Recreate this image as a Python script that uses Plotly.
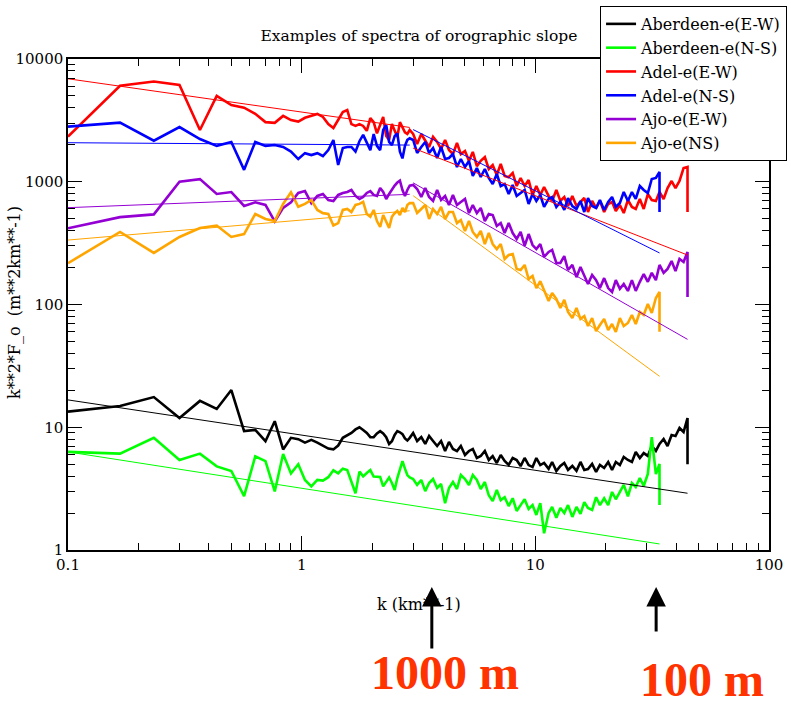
import plotly.graph_objects as go

# wavenumber grid k (km**-1)
K = [0.1, 0.167, 0.233, 0.3, 0.367, 0.433, 0.5, 0.567, 0.633, 0.7, 0.767, 0.833, 0.9, 0.967,
     1.033, 1.1, 1.167, 1.233, 1.3, 1.367, 1.433, 1.5, 1.567, 1.633, 1.7, 1.767, 1.833, 1.9,
     1.967, 2.033, 2.1, 2.167, 2.233, 2.3, 2.367, 2.433, 2.5, 2.567, 2.633, 2.7, 2.767, 2.833, 2.9,
     3.0, 3.12, 3.25, 3.38, 3.51, 3.65, 3.8, 3.95, 4.11, 4.27, 4.44, 4.62, 4.8, 5.0, 5.2, 5.4,
     5.62, 5.84, 6.08, 6.32, 6.57, 6.84, 7.11, 7.39, 7.69, 8.0, 8.32, 8.65, 9.0, 9.36, 9.73,
     10.1, 10.5, 10.9, 11.4, 11.8, 12.3, 12.8, 13.3, 13.8, 14.4, 15.0, 15.6, 16.2, 16.8, 17.5,
     18.2, 18.9, 19.7, 20.5, 21.3, 22.1, 23.0, 23.9, 24.9, 25.9, 26.9, 28.0, 29.1, 30.3, 31.5,
     32.8, 34.0, 35.4, 36.8, 38.3, 39.8, 41.4, 43.1, 44.8]

# spectra k**2*F_o (last value = final drop at the last wavenumber)
ABERDEEN_EW = [13.4, 14.9, 17.6, 11.9, 16.4, 14.1, 20.1, 9.3, 9.5, 7.7, 11.2, 6.6, 8.2, 8.0, 7.5,
               7.9, 7.5, 7.1, 6.7, 6.6, 7.1, 8.2, 8.6, 9.0, 9.6, 10.0, 9.5, 9.0, 8.3, 8.3, 8.9,
               9.3, 8.9, 8.3, 7.3, 7.7, 8.65, 9.3, 9.1, 8.8, 8.1, 7.8, 8.2,
               8.98, 7.72, 8.33, 7.31, 8.48, 7.72, 7.03, 7.72, 6.41, 7.59, 6.65, 6.40, 7.04, 5.95,
               6.41, 6.65, 5.61, 5.83, 6.40, 5.41, 5.83, 5.11, 5.94, 5.31, 4.93, 5.62, 5.41, 4.83,
               5.62, 4.92, 4.74, 5.61, 4.92, 5.12, 4.58, 5.21, 4.40, 4.83, 5.12, 4.49, 4.84, 4.41,
               5.22, 4.49, 4.57, 5.02, 4.32, 4.93, 4.66, 5.21, 4.49, 5.21, 4.92, 5.72, 5.41, 5.22,
               6.28, 5.61, 6.16, 5.84, 7.04, 6.41, 7.31, 8.02, 7.03, 8.64, 8.49, 9.86, 9.15, 11.9,
               5.0]
ABERDEEN_NS = [6.3, 6.1, 8.2, 5.4, 6.1, 4.8, 4.4, 2.75, 5.8, 5.3, 3.0, 6.05, 4.2, 5.0, 3.72,
               3.3, 3.72, 3.68, 3.92, 4.46, 4.22, 4.6, 4.48, 3.6, 2.9, 4.35, 3.98, 4.24, 4.48,
               3.97, 3.94, 3.93, 3.3, 3.6, 3.9, 3.52, 3.08, 3.86, 4.6, 5.3, 4.6, 4.08, 3.9,
               3.79, 3.39, 3.72, 3.02, 3.51, 3.79, 3.20, 3.45, 2.41, 3.20, 3.58, 3.14, 4.08, 3.79,
               3.39, 4.08, 3.72, 3.14, 3.58, 2.79, 2.50, 3.08, 2.55, 2.69, 2.28, 2.64, 2.08, 2.32,
               2.59, 2.16, 2.32, 1.93, 2.41, 1.37, 2.00, 2.24, 1.83, 2.20, 2.00, 2.32, 1.86, 2.24,
               1.97, 2.45, 2.20, 2.12, 2.69, 2.32, 2.64, 2.32, 2.97, 2.59, 2.97, 3.39, 2.74, 3.51,
               3.26, 3.86, 3.32, 4.16, 8.3, 4.16, 5.02, 2.33]
ADEL_EW = [2330, 6060, 6560, 6140, 2640, 5000, 4220, 4010, 3580, 3060, 3020, 3440, 3180, 3090,
           3320, 3460, 3570, 3370, 2950, 2740, 3190, 3700, 3840, 2950, 2850, 2950, 2850, 2600,
           3300, 3060, 2480, 2950, 3370, 2360, 2190, 2950, 2640, 2320, 3060, 2740, 2530, 2450, 2640,
           2450, 2030, 2450, 2190, 1920, 2320, 2110, 1850, 2190, 1815, 1680, 2070, 1680, 1780,
           1480, 1750, 1340, 1480, 1590, 1270, 1370, 1135, 1395, 1115, 1090, 1180, 923, 1073,
           923, 1033, 780, 923, 780, 906, 766, 697, 857, 697, 751, 634, 766, 634, 684, 737, 567,
           697, 611, 697, 567, 659, 684, 578, 647, 556, 710, 623, 600, 724, 600, 795, 710, 697,
           825, 724, 889, 1014, 889, 1014, 1294, 1319, 568]
ADEL_NS = [2810, 3030, 2160, 2790, 2230, 1960, 2110, 1250, 2110, 1960, 1990, 1920, 1760, 1530,
           1710, 1650, 1710, 1620, 1810, 2190, 1370, 1880, 1920, 1920, 1760, 2140, 2410, 2110,
           1810, 2450, 1960, 1810, 2640, 2900, 2110, 1990, 2350, 2480, 1760, 1550, 1960, 2190, 2260,
           2190, 1715, 1920, 2110, 1715, 1880, 1561, 1920, 1532, 1561, 1683, 1319, 1532, 1319,
           1476, 1114, 1294, 1093, 1270, 1073, 959, 1156, 923, 959, 795, 941, 766, 810, 857, 659,
           795, 697, 780, 623, 724, 751, 623, 684, 589, 737, 634, 600, 697, 567, 737, 634, 611,
           710, 589, 684, 751, 623, 671, 825, 697, 825, 724, 923, 857, 810, 1053, 1073, 1200, 567]
AJO_EW = [418, 515, 542, 1000, 1050, 795, 825, 635, 680, 647, 475, 612, 680, 810, 840, 670, 766,
          795, 710, 697, 781, 810, 825, 857, 766, 723, 752, 810, 840, 781, 766, 890, 825, 723,
          795, 873, 930, 985, 1020, 857, 766, 857, 930,
          943, 873, 751, 889, 751, 697, 857, 710, 766, 647, 780, 647, 684, 724, 556, 647, 556,
          611, 479, 546, 536, 436, 461, 382, 461, 382, 342, 390, 300, 375, 305, 283, 311, 244,
          268, 278, 218, 218, 248, 191, 210, 167, 202, 171, 147, 174, 158, 136, 164, 136, 126.5,
          158, 134, 147, 129, 158, 129, 153, 177, 153, 181, 158, 210, 181, 195, 226, 187, 235,
          222, 268, 115]
AJO_NS = [217, 390, 263, 355, 420, 440, 355, 375, 546, 497, 478, 660, 820, 625, 660, 710, 589,
          555, 546, 440, 460, 589, 600, 567, 647, 660, 685, 546, 518, 589, 478, 428, 536, 470,
          420, 518, 555, 578, 536, 612, 567, 647, 670,
          671, 556, 600, 647, 497, 600, 546, 623, 497, 567, 567, 461, 488, 397, 479, 390, 355,
          397, 311, 382, 311, 283, 311, 235, 253, 258, 195, 191, 210, 161, 171, 136, 155, 131,
          107, 124, 111, 93.6, 109, 86.9, 77.6, 93.6, 76.2, 80.6, 66.8, 77.6, 60.8, 68.1, 76.2,
          62.0, 69.4, 59.7, 77.6, 66.8, 70.7, 82.1, 69.4, 86.9, 82.1, 101, 85.3, 113, 126.5, 60]

# power-law fits (None separates the low-k and high-k segments)
FIT_ABERDEEN_EW_K = [0.1, 44.8]
FIT_ABERDEEN_EW_V = [16.7, 2.9]
FIT_ABERDEEN_NS_K = [0.1, 34.0]
FIT_ABERDEEN_NS_V = [6.3, 1.12]
FIT_ADEL_EW_K = [0.1, 2.9, None, 3.0, 44.8]
FIT_ADEL_EW_V = [6900, 2770, None, 1880, 253]
FIT_ADEL_NS_K = [0.1, 2.9, None, 3.0, 34.0]
FIT_ADEL_NS_V = [2080, 1990, None, 2660, 263]
FIT_AJO_EW_K = [0.1, 2.9, None, 3.0, 44.8]
FIT_AJO_EW_V = [615, 790, None, 980, 52]
FIT_AJO_NS_K = [0.1, 2.9, None, 3.0, 34.0]
FIT_AJO_NS_V = [335, 580, None, 770, 26]

NAMES = ["Aberdeen-e(E-W)", "Aberdeen-e(N-S)", "Adel-e(E-W)", "Adel-e(N-S)", "Ajo-e(E-W)", "Ajo-e(NS)"]
COLORS = ["#000000", "#00ff00", "#ff0000", "#0000ff", "#9400d3", "#ffa500"]
SPECTRA = [ABERDEEN_EW, ABERDEEN_NS, ADEL_EW, ADEL_NS, AJO_EW, AJO_NS]
FITS = [(FIT_ABERDEEN_EW_K, FIT_ABERDEEN_EW_V), (FIT_ABERDEEN_NS_K, FIT_ABERDEEN_NS_V),
        (FIT_ADEL_EW_K, FIT_ADEL_EW_V), (FIT_ADEL_NS_K, FIT_ADEL_NS_V),
        (FIT_AJO_EW_K, FIT_AJO_EW_V), (FIT_AJO_NS_K, FIT_AJO_NS_V)]

X_TICKS = [0.1, 1, 10, 100]
X_TICK_LABELS = ["0.1", "1", "10", "100"]
Y_TICKS = [1, 10, 100, 1000, 10000]
Y_TICK_LABELS = ["1", "10", "100", "1000", "10000"]
X_MINOR = [m * 10.0 ** e for e in (-1, 0, 1) for m in range(2, 10)]
Y_MINOR = [m * 10.0 ** e for e in (0, 1, 2, 3) for m in range(2, 10)]

SERIF = "DejaVu Serif"

fig = go.Figure()

for name, vals, col in zip(NAMES, SPECTRA, COLORS):
    n = len(vals) - 1
    xs = K[:n] + [K[n - 1]]
    fig.add_trace(go.Scatter(x=xs, y=vals, mode="lines", name=name,
                             line=dict(color=col, width=2.6)))

for (fk, fv), col in zip(FITS, COLORS):
    fig.add_trace(go.Scatter(x=fk, y=fv, mode="lines", showlegend=False, hoverinfo="skip",
                             line=dict(color=col, width=1)))

axis_common = dict(
    showline=True, linecolor="black", linewidth=1.5, mirror="allticks",
    ticks="inside", ticklen=14, tickwidth=1, tickcolor="black",
    showgrid=False, zeroline=False,
    tickfont=dict(family=SERIF, size=15, color="black"),
)

fig.update_xaxes(type="log", range=[-1, 2], tickmode="array", tickvals=X_TICKS,
                 ticktext=X_TICK_LABELS,
                 minor=dict(tickmode="array", tickvals=X_MINOR, ticks="inside", ticklen=7,
                            tickcolor="black", tickwidth=1),
                 **axis_common)
fig.update_yaxes(type="log", range=[0, 4], tickmode="array", tickvals=Y_TICKS,
                 ticktext=Y_TICK_LABELS,
                 minor=dict(tickmode="array", tickvals=Y_MINOR, ticks="inside", ticklen=7,
                            tickcolor="black", tickwidth=1),
                 **axis_common)

annotations = [
    dict(text="k (km**-1)", x=0.5007, y=-0.112, xref="paper", yref="paper", showarrow=False,
         xanchor="center", yanchor="middle", font=dict(family=SERIF, size=16, color="black")),
    dict(text="k**2*F_o  (m**2km**-1)", x=-0.077, y=0.503, xref="paper", yref="paper",
         showarrow=False, textangle=-90, xanchor="center", yanchor="middle",
         font=dict(family=SERIF, size=16, color="black")),
    dict(text="", x=0.519, y=-0.0754, xref="paper", yref="paper", showarrow=True,
         ax=0, ay=63, arrowhead=2, arrowsize=1.3, arrowwidth=3, arrowcolor="black"),
    dict(text="", x=0.839, y=-0.0754, xref="paper", yref="paper", showarrow=True,
         ax=0, ay=46, arrowhead=2, arrowsize=1.3, arrowwidth=3, arrowcolor="black"),
    dict(text="<b>1000 m</b>", x=0.538, y=-0.2505, xref="paper", yref="paper", showarrow=False,
         xanchor="center", yanchor="middle",
         font=dict(family="Liberation Serif", size=48, color="#ff3300")),
    dict(text="<b>100 m</b>", x=0.904, y=-0.263, xref="paper", yref="paper", showarrow=False,
         xanchor="center", yanchor="middle",
         font=dict(family="Liberation Serif", size=48, color="#ff3300")),
]

fig.update_layout(
    width=791, height=702, autosize=False,
    margin=dict(l=68, r=22, t=59, b=152, autoexpand=False),
    paper_bgcolor="white", plot_bgcolor="white",
    title=dict(text="Examples of spectra of orographic slope", x=0.5007, xref="paper",
               xanchor="center", y=0.950, yanchor="middle",
               font=dict(family=SERIF, size=15.5, color="black")),
    legend=dict(x=0.759, y=1.108, xref="paper", yref="paper", xanchor="left", yanchor="top",
                bgcolor="white", bordercolor="black", borderwidth=1,
                font=dict(family=SERIF, size=16, color="black"),
                itemwidth=30, tracegroupgap=0),
    showlegend=True,
    annotations=annotations,
)

fig.write_html("out.html", config={"displayModeBar": False},
               post_script="document.body.style.margin='0px';")
